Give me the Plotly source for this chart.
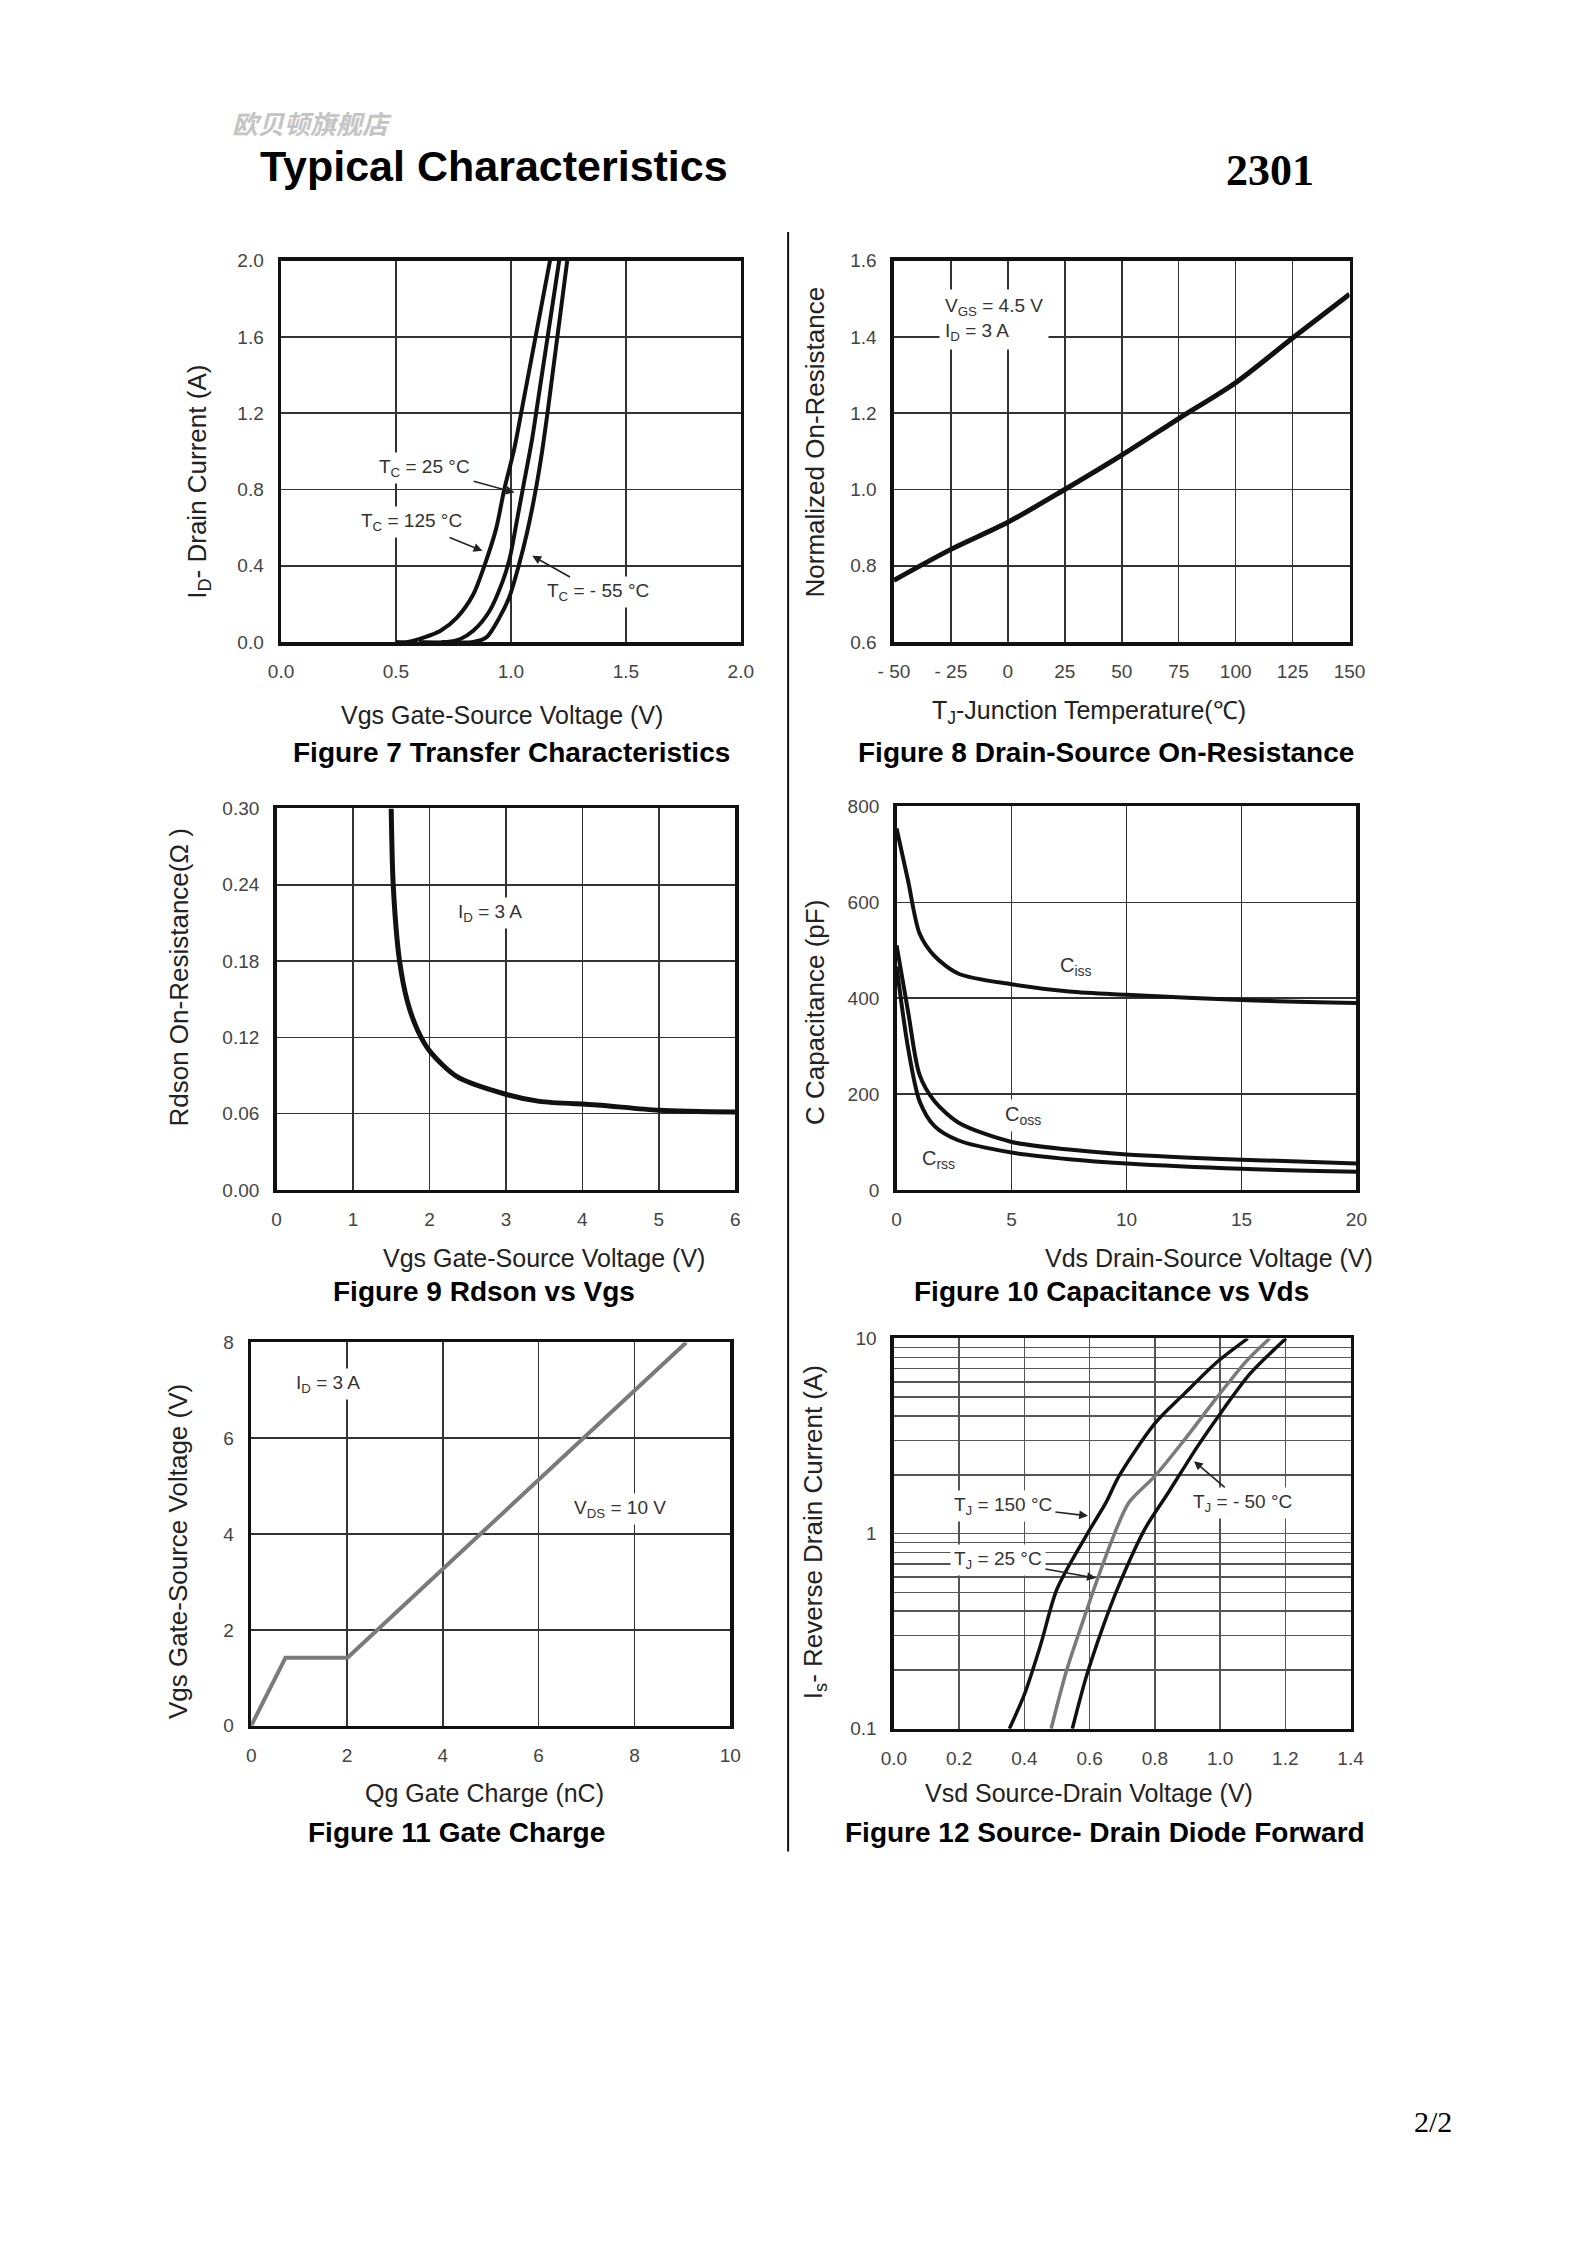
import plotly.graph_objects as go

W, H = 1587, 2245

# ---------------- data ----------------
# Figure 7 Transfer characteristics
f7_vgs_125 = [0.50, 0.55, 0.623, 0.694, 0.765, 0.836, 0.886, 0.936, 0.971, 1.014, 1.05, 1.17]
f7_id_125 = [0.0, 0.0, 0.024, 0.059, 0.128, 0.249, 0.405, 0.596, 0.80, 1.01, 1.236, 2.0]
f7_vgs_25 = [0.60, 0.723, 0.78, 0.836, 0.907, 0.964, 0.995, 1.028, 1.056, 1.092, 1.114, 1.21]
f7_id_25 = [0.0, 0.0, 0.016, 0.059, 0.163, 0.318, 0.44, 0.65, 0.83, 1.063, 1.236, 2.0]
f7_vgs_m55 = [0.70, 0.836, 0.893, 0.95, 0.992, 1.035, 1.071, 1.106, 1.135, 1.163, 1.245]
f7_id_m55 = [0.0, 0.0, 0.024, 0.128, 0.232, 0.405, 0.578, 0.786, 0.994, 1.236, 2.0]
f7_xticks = [0.0, 0.5, 1.0, 1.5, 2.0]
f7_yticks = [0.0, 0.4, 0.8, 1.2, 1.6, 2.0]

# Figure 8 Normalized on-resistance vs temperature
f8_temp = [-50, -25, 0, 25, 50, 75, 100, 125, 150]
f8_rn = [0.762, 0.843, 0.914, 1.0, 1.09, 1.186, 1.28, 1.397, 1.512]
f8_xticks = [-50, -25, 0, 25, 50, 75, 100, 125, 150]
f8_xticktext = ["- 50", "- 25", "0", "25", "50", "75", "100", "125", "150"]
f8_yticks = [0.6, 0.8, 1.0, 1.2, 1.4, 1.6]

# Figure 9 Rdson vs Vgs
f9_vgs = [1.499, 1.526, 1.606, 1.714, 1.849, 2.011, 2.36, 3.008, 3.439, 4.194, 5.003, 6.0]
f9_rds = [0.30, 0.239, 0.181, 0.1475, 0.125, 0.1085, 0.089, 0.075, 0.0696, 0.0668, 0.0626, 0.0612]
f9_xticks = [0, 1, 2, 3, 4, 5, 6]
f9_yticks = [0.0, 0.06, 0.12, 0.18, 0.24, 0.30]

# Figure 10 Capacitance vs Vds
f10_vds = [0, 0.5, 1.0, 1.65, 2.7, 5, 7.5, 10, 15, 20]
f10_ciss = [754, 645, 535, 488, 451, 429, 414, 407, 396, 390]
f10_coss = [510, 372, 240, 185, 140, 100, 84, 74, 63, 55]
f10_crss = [466, 296, 185, 133, 103, 78, 64, 55, 44, 38]
f10_xticks = [0, 5, 10, 15, 20]
f10_yticks = [0, 200, 400, 600, 800]

# Figure 11 Gate charge
f11_qg = [0, 0.716, 2.01, 9.08]
f11_vgs = [0, 1.42, 1.42, 8.0]
f11_xticks = [0, 2, 4, 6, 8, 10]
f11_yticks = [0, 2, 4, 6, 8]

# Figure 12 Source-drain diode forward
f12_v_150 = [0.354, 0.40, 0.45, 0.50, 0.59, 0.65, 0.69, 0.80, 0.89, 0.99, 1.085]
f12_i_150 = [0.1, 0.15, 0.27, 0.52, 0.98, 1.44, 1.97, 3.67, 5.2, 7.55, 10]
f12_v_25 = [0.482, 0.529, 0.589, 0.615, 0.67, 0.72, 0.80, 0.891, 0.991, 1.082, 1.152]
f12_i_25 = [0.1, 0.198, 0.396, 0.53, 0.94, 1.44, 1.97, 3.03, 5.0, 7.7, 10]
f12_v_m50 = [0.547, 0.589, 0.64, 0.69, 0.77, 0.841, 0.931, 1.001, 1.092, 1.202]
f12_i_m50 = [0.1, 0.183, 0.33, 0.545, 1.06, 1.62, 2.8, 4.13, 6.6, 10]
f12_xticks = [0.0, 0.2, 0.4, 0.6, 0.8, 1.0, 1.2, 1.4]
f12_yticks = [0.1, 1, 10]
f12_yticktext = ["0.1", "1", "10"]
f12_yminor = [0.2, 0.3, 0.4, 0.5, 0.6, 0.7, 0.8, 0.9,
              2, 3, 4, 5, 6, 7, 8, 9]

# ---------------- layout helpers ----------------
FONT = "Liberation Sans"


def xdom(x0, x1):
    return [x0 / W, x1 / W]


def ydom(y0, y1):
    return [1 - y1 / H, 1 - y0 / H]


def ptext(x, y, text, size, color="#222", bold=False, angle=0, family=FONT,
          italic=False):
    return dict(xref="paper", yref="paper", x=x / W, y=1 - y / H, text=text,
                showarrow=False, textangle=angle, xanchor="center",
                yanchor="middle",
                font=dict(family=family, size=size, color=color,
                          weight="bold" if bold else "normal",
                          style="italic" if italic else "normal"))


def label(ax, x, y, text, size=19):
    return dict(xref="x" + ax, yref="y" + ax, x=x, y=y, text=text,
                showarrow=False, bgcolor="white", borderpad=3,
                font=dict(family=FONT, size=size, color="#333"))


def arrow_label(ax, tx, ty, tipx, tipy, text, size=19):
    # text box centred at (tx, ty); arrow drawn from the box edge to the tip
    return dict(xref="x" + ax, yref="y" + ax, x=tipx, y=tipy,
                axref="x" + ax, ayref="y" + ax, ax=tx, ay=ty,
                text=text, showarrow=True, arrowhead=2, arrowsize=1.1,
                arrowwidth=1.6, arrowcolor="#222", standoff=0,
                bgcolor="white", borderpad=3,
                font=dict(family=FONT, size=size, color="#333"))


fig = go.Figure()

BLACK = "#111"


def add(x, y, n, color=BLACK, width=4, shape="spline"):
    fig.add_trace(go.Scatter(x=x, y=y, mode="lines", xaxis="x" + n,
                             yaxis="y" + n, showlegend=False,
                             line=dict(color=color, width=width, shape=shape,
                                       smoothing=0.8)))


add(f7_vgs_125, f7_id_125, "1")
add(f7_vgs_25, f7_id_25, "1")
add(f7_vgs_m55, f7_id_m55, "1")
add(f8_temp, f8_rn, "2", width=5)
add(f9_vgs, f9_rds, "3", width=5)
add(f10_vds, f10_ciss, "4", width=4)
add(f10_vds, f10_coss, "4", width=4)
add(f10_vds, f10_crss, "4", width=4)
add(f11_qg, f11_vgs, "5", color="#7a7a7a", width=4, shape="linear")
add(f12_v_150, f12_i_150, "6", width=3.5)
add(f12_v_25, f12_i_25, "6", color="#7a7a7a", width=3.5)
add(f12_v_m50, f12_i_m50, "6", width=3.5)

tickfont = dict(family=FONT, size=19, color="#444")


def axis(dom, rng, tickvals, ticktext=None, fmt=None, log=False, standoff=10,
         gridcolor="#333"):
    d = dict(domain=dom, range=rng, tickvals=tickvals, showgrid=True,
             gridcolor=gridcolor, gridwidth=1.6, zeroline=False,
             showline=True, linecolor="#111", linewidth=3.5, mirror=True,
             ticks="", tickfont=tickfont, ticklabelstandoff=standoff,
             fixedrange=True)
    if ticktext is not None:
        d["ticktext"] = ticktext
    if fmt:
        d["tickformat"] = fmt
    if log:
        d["type"] = "log"
    return d


layout = dict(
    width=W, height=H, margin=dict(l=0, r=0, t=0, b=0),
    paper_bgcolor="white", plot_bgcolor="white", showlegend=False,
)

layout["xaxis"] = axis(xdom(270.5, 739.7), [0, 2], f7_xticks, fmt=".1f")
layout["yaxis"] = axis(ydom(253, 638), [0, 2], f7_yticks, fmt=".1f")
layout["xaxis"]["anchor"] = "y"
layout["yaxis"]["anchor"] = "x"

layout["xaxis2"] = axis(xdom(896, 1361), [-50, 150], f8_xticks, ticktext=f8_xticktext)
layout["yaxis2"] = axis(ydom(253, 638), [0.6, 1.6], f8_yticks, fmt=".1f")

layout["xaxis3"] = axis(xdom(266, 734), [0, 6], f9_xticks)
layout["yaxis3"] = axis(ydom(806, 1191), [0, 0.30], f9_yticks, fmt=".2f")

layout["xaxis4"] = axis(xdom(898.7, 1368), [0, 20], f10_xticks)
layout["yaxis4"] = axis(ydom(804, 1191), [0, 800], f10_yticks)

layout["xaxis5"] = axis(xdom(240, 729), [0, 10], f11_xticks)
layout["yaxis5"] = axis(ydom(1345, 1732), [0, 8], f11_yticks)

layout["xaxis6"] = axis(xdom(896, 1362), [0, 1.4], f12_xticks, fmt=".1f",
                        gridcolor="#555")
layout["yaxis6"] = axis(ydom(1341, 1735), [-1, 1], f12_yticks,
                        ticktext=f12_yticktext, log=True, gridcolor="#555")
layout["yaxis6"]["minor"] = dict(tickvals=f12_yminor, showgrid=True,
                                 gridcolor="#555", gridwidth=1.6, ticks="")

for i in range(2, 7):
    layout["xaxis%d" % i]["anchor"] = "y%d" % i
    layout["yaxis%d" % i]["anchor"] = "x%d" % i

ann = []
# page header
ann.append(ptext(302, 114, "欧贝顿旗舰店", 26, color="#c4c4c4", bold=True,
                 family="Noto Sans CJK SC", italic=True))
ann.append(ptext(488, 157, "Typical Characteristics", 43, color="#000", bold=True))
ann.append(ptext(1280, 162, "2301", 44, color="#000", bold=True,
                 family="Liberation Serif"))
ann.append(ptext(1446, 2131, "2/2", 30, color="#000", family="Liberation Serif"))

TT = 25  # axis title size
YT = 26
CAP = 28

# Figure 7
ann.append(ptext(496, 712, "Vgs Gate-Source Voltage (V)", TT))
ann.append(ptext(506, 750, "Figure 7 Transfer Characteristics", CAP, color="#000", bold=True))
ann.append(ptext(186, 476, "I<sub>D</sub>- Drain Current (A)", YT, angle=-90))
ann.append(arrow_label("", 0.625, 0.914, 1.016, 0.784, "T<sub>C</sub> = 25 °C"))
ann.append(arrow_label("", 0.567, 0.629, 0.876, 0.478, "T<sub>C</sub> = 125 °C"))
ann.append(arrow_label("", 1.377, 0.26, 1.093, 0.452, "T<sub>C</sub> = - 55 °C"))

# Figure 8
ann.append(ptext(1095, 709, "T<sub>J</sub>-Junction Temperature(℃)", TT))
ann.append(ptext(1112, 750, "Figure 8 Drain-Source On-Resistance", CAP, color="#000", bold=True))
ann.append(ptext(815, 436, "Normalized On-Resistance", YT, angle=-90))
ann.append(dict(xref="x2", yref="y2", x=-30, y=1.445, xanchor="left",
                yanchor="middle", align="left", showarrow=False,
                text="V<sub>GS</sub> = 4.5 V<br>I<sub>D</sub> = 3 A",
                bgcolor="white", borderpad=5,
                font=dict(family=FONT, size=19, color="#333")))

# Figure 9
ann.append(ptext(539, 1260, "Vgs Gate-Source Voltage (V)", TT))
ann.append(ptext(478, 1294, "Figure 9 Rdson vs Vgs", CAP, color="#000", bold=True))
ann.append(ptext(166, 977, "Rdson On-Resistance(Ω )", YT, angle=-90))
ann.append(label("3", 2.79, 0.218, "I<sub>D</sub> = 3 A", size=19))

# Figure 10
ann.append(ptext(1218, 1260, "Vds Drain-Source Voltage (V)", TT))
ann.append(ptext(1118, 1294, "Figure 10 Capacitance vs Vds", CAP, color="#000", bold=True))
ann.append(ptext(815, 1012, "C Capacitance (pF)", YT, angle=-90))
ann.append(label("4", 7.8, 466, "C<sub>iss</sub>", size=20))
ann.append(label("4", 5.5, 155, "C<sub>oss</sub>", size=20))
ann.append(label("4", 1.84, 64, "C<sub>rss</sub>", size=20))

# Figure 11
ann.append(ptext(478, 1800, "Qg Gate Charge (nC)", TT))
ann.append(ptext(450, 1840, "Figure 11 Gate Charge", CAP, color="#000", bold=True))
ann.append(ptext(166, 1556, "Vgs Gate-Source Voltage (V)", YT, angle=-90))
ann.append(label("5", 1.6, 7.13, "I<sub>D</sub> = 3 A", size=19))
ann.append(label("5", 7.69, 4.53, "V<sub>DS</sub> = 10 V", size=19))

# Figure 12 (log y: positions given as log10)
ann.append(ptext(1095, 1800, "Vsd Source-Drain Voltage (V)", TT))
ann.append(ptext(1111, 1840, "Figure 12 Source- Drain Diode Forward", CAP, color="#000", bold=True))
ann.append(ptext(815, 1537, "I<sub>s</sub>- Reverse Drain Current (A)", YT, angle=-90))
ann.append(arrow_label("6", 0.334, 0.142, 0.595, 0.091, "T<sub>J</sub> = 150 °C"))
ann.append(arrow_label("6", 0.319, -0.137, 0.619, -0.228, "T<sub>J</sub> = 25 °C"))
ann.append(arrow_label("6", 1.07, 0.157, 0.92, 0.371, "T<sub>J</sub> = - 50 °C"))

layout["annotations"] = ann

# divider line between columns
layout["shapes"] = [
    dict(type="line", xref="paper", yref="paper", x0=788 / W, x1=788 / W,
         y0=1 - 224 / H, y1=1 - 1859 / H, line=dict(color="#111", width=2)),
]

fig.update_layout(**layout)
fig.write_html(
    "out.html",
    config={"displayModeBar": False, "staticPlot": True},
    post_script="document.body.style.margin='0px';"
                "document.body.style.overflow='hidden';",
)
